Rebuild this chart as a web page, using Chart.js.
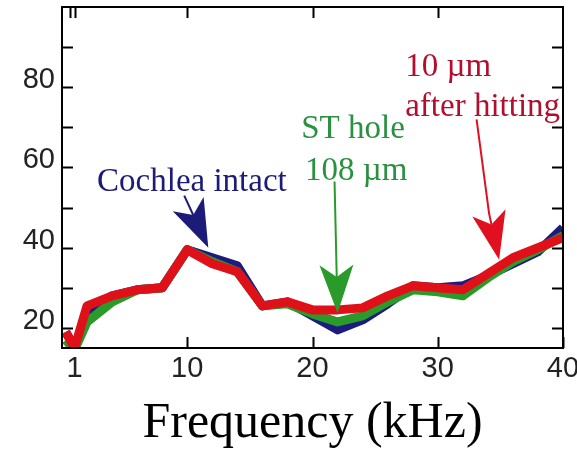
<!DOCTYPE html>
<html>
<head>
<meta charset="utf-8">
<script src="https://cdn.jsdelivr.net/npm/chart.js@4/dist/chart.umd.min.js"></script>
<style>
  html, body { margin: 0; padding: 0; background: #fff; }
  #wrap { width: 577px; height: 450px; position: relative; }
</style>
</head>
<body>
<div id="wrap"><canvas id="chart"></canvas></div>
<script>
// Frequency (kHz) and threshold values
const freqs = [0.3, 1, 2, 4, 6, 8, 10, 12, 14, 16, 18, 20, 22, 24, 26, 28, 30, 32, 34, 36, 38, 40];
const afterHitting = [19, 15, 25.5, 28, 29.5, 30, 39.5, 36, 34, 25.5, 26.5, 24.5, 24.5, 25, 28, 30.5, 30, 29.5, 33.5, 37.5, 40, 42.5];
const stHole = [17, 14.5, 21.5, 26.5, 29.5, 30, 39.5, 36.5, 34, 25.5, 26, 23.5, 21.5, 23, 26.5, 29.5, 29, 28, 32.5, 36.5, 39.5, 43];
const cochleaIntact = [19, 15, 24, 28, 29.5, 30, 39.5, 37.5, 35.5, 25.5, 26.5, 23, 19.5, 22, 26, 30.5, 30, 30.5, 33, 36, 39, 45];

const xTickLabels = [1, 10, 20, 30, 40];
const yTickLabels = [20, 40, 60, 80];
const xMinorTicksBottom = [10, 20, 30, 40];
const xMinorTicksTop = [0.6, 1, 10, 20, 30];
const yMinorTicks = [20, 30, 40, 50, 60, 70, 80, 90];

// annotation labels and arrows (data units)
const notes = [
  { text: 'Cochlea intact', x: 2.8, y: 56.3, color: '#1c1c78' },
  { text: 'ST hole', x: 19.1, y: 69.5, color: '#2b9040' },
  { text: '108 \u00b5m', x: 19.4, y: 59, color: '#2b9040' },
  { text: '10 \u00b5m', x: 27.4, y: 85, color: '#b0102e' },
  { text: 'after hitting', x: 27.4, y: 75, color: '#b0102e' }
];
const arrows = [
  { pts: [[9.76, 53], [11.68, 40]], color: '#1c1c78' },
  { pts: [[21.76, 56.5], [22, 23.75]], color: '#2a9a2a' },
  { pts: [[33.1, 72], [34.1, 48.5], [34.9, 37]], color: '#e01020' }
];

const frameAndNotes = {
  id: 'frameAndNotes',
  afterDatasetsDraw(chart) {
    const { ctx, chartArea: a, scales: { x, y } } = chart;
    ctx.save();
    ctx.strokeStyle = '#000';
    ctx.lineWidth = 2;
    ctx.strokeRect(a.left, a.top, a.right - a.left, a.bottom - a.top);
    ctx.beginPath();
    const tl = 11;
    yMinorTicks.forEach(v => {
      const py = Math.round(y.getPixelForValue(v)) + 0.5;
      ctx.moveTo(a.left, py); ctx.lineTo(a.left + tl, py);
      ctx.moveTo(a.right, py); ctx.lineTo(a.right - tl, py);
    });
    xMinorTicksBottom.forEach(v => {
      const px = Math.round(x.getPixelForValue(v)) + 0.5;
      ctx.moveTo(px, a.bottom); ctx.lineTo(px, a.bottom - tl);
    });
    xMinorTicksTop.forEach(v => {
      const px = Math.round(x.getPixelForValue(v)) + 0.5;
      ctx.moveTo(px, a.top); ctx.lineTo(px, a.top + tl);
    });
    ctx.stroke();

    // arrows
    arrows.forEach(ar => {
      const p = ar.pts.map(q => [x.getPixelForValue(q[0]), y.getPixelForValue(q[1])]);
      const tip = p[p.length - 1];
      const prev = p[p.length - 2];
      let dx = tip[0] - prev[0], dy = tip[1] - prev[1];
      const len = Math.hypot(dx, dy);
      dx /= len; dy /= len;
      const nx = -dy, ny = dx;
      const hl = 48, hw = 17, notch = 12;
      const base = [tip[0] - dx * hl, tip[1] - dy * hl];
      ctx.strokeStyle = ar.color;
      ctx.fillStyle = ar.color;
      ctx.lineWidth = 2;
      ctx.beginPath();
      ctx.moveTo(p[0][0], p[0][1]);
      for (let i = 1; i < p.length - 1; i++) ctx.lineTo(p[i][0], p[i][1]);
      ctx.lineTo(base[0] + dx * notch, base[1] + dy * notch);
      ctx.stroke();
      ctx.beginPath();
      ctx.moveTo(tip[0], tip[1]);
      ctx.lineTo(base[0] + nx * hw, base[1] + ny * hw);
      ctx.lineTo(base[0] + dx * notch, base[1] + dy * notch);
      ctx.lineTo(base[0] - nx * hw, base[1] - ny * hw);
      ctx.closePath();
      ctx.fill();
    });

    ctx.font = '33px "Liberation Serif", "Times New Roman", serif';
    ctx.textAlign = 'left';
    ctx.textBaseline = 'middle';
    notes.forEach(n => {
      ctx.fillStyle = n.color;
      ctx.fillText(n.text, x.getPixelForValue(n.x), y.getPixelForValue(n.y));
    });
    ctx.restore();
  }
};

function line(label, data, color) {
  return {
    label: label,
    data: freqs.map((f, i) => ({ x: f, y: data[i] })),
    borderColor: color,
    borderWidth: 9,
    borderJoinStyle: 'round',
    pointRadius: 0,
    tension: 0,
    clip: 0
  };
}

new Chart(document.getElementById('chart'), {
  type: 'line',
  data: {
    datasets: [
      line('10 \u00b5m after hitting', afterHitting, '#e01018'),
      line('ST hole 108 \u00b5m', stHole, '#2a9a2a'),
      line('Cochlea intact', cochleaIntact, '#1c1c80')
    ]
  },
  options: {
    responsive: true,
    maintainAspectRatio: false,
    animation: false,
    layout: { padding: { left: 0, top: 7, right: 14, bottom: 0 } },
    plugins: {
      legend: { display: false },
      tooltip: { enabled: false }
    },
    scales: {
      x: {
        type: 'linear',
        min: 0,
        max: 40,
        afterBuildTicks: s => { s.ticks = xTickLabels.map(v => ({ value: v })); },
        afterFit: s => { s.height = 102; s.paddingLeft = 0; s.paddingRight = 0; },
        grid: { display: false, drawTicks: false },
        border: { display: false },
        ticks: {
          autoSkip: false,
          maxRotation: 0,
          padding: 4,
          color: '#222',
          font: { family: '"Liberation Sans", Arial, sans-serif', size: 29 }
        },
        title: {
          display: true,
          text: 'Frequency (kHz)',
          color: '#000',
          padding: { top: 0, bottom: -4 },
          font: { family: '"Liberation Serif", "Times New Roman", serif', size: 50 }
        }
      },
      y: {
        min: 15,
        max: 100,
        afterBuildTicks: s => { s.ticks = yTickLabels.map(v => ({ value: v })); },
        afterFit: s => { s.width = 62; s.paddingTop = 0; s.paddingBottom = 0; },
        grid: { display: false, drawTicks: false },
        border: { display: false },
        ticks: {
          padding: 7,
          labelOffset: -7,
          color: '#222',
          font: { family: '"Liberation Sans", Arial, sans-serif', size: 29 }
        }
      }
    }
  },
  plugins: [frameAndNotes]
});
</script>
</body>
</html>
